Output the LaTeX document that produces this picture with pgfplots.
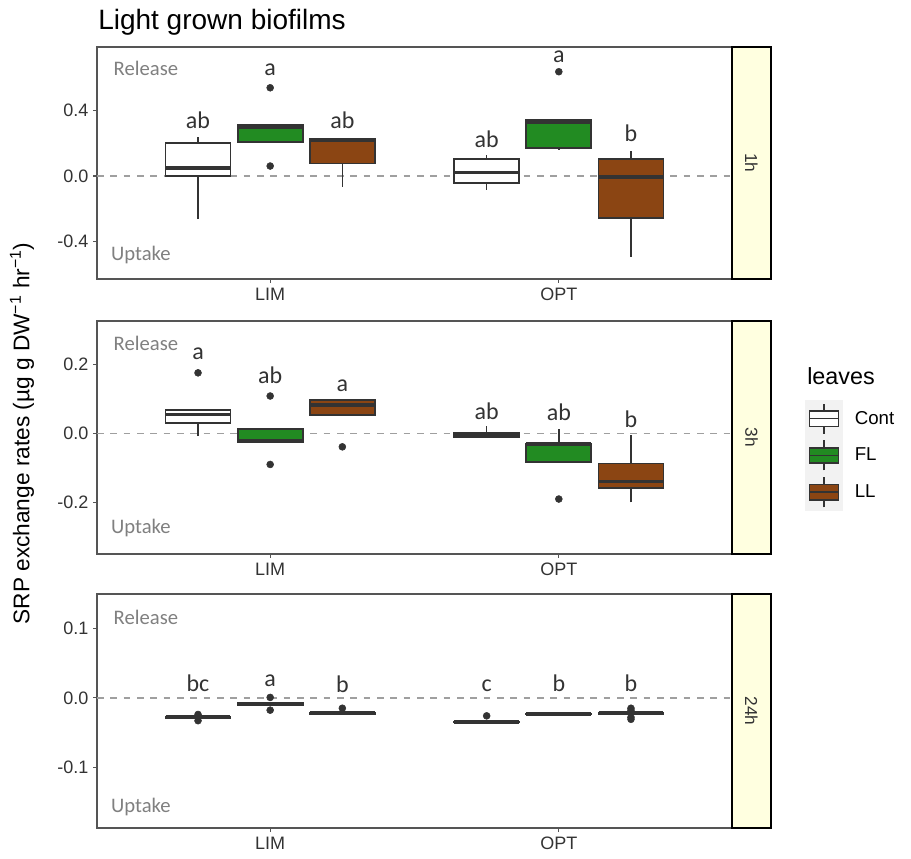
\documentclass[border=0pt]{standalone}
\usepackage{pgfplots}
\pgfplotsset{compat=1.18}
\usepackage{fontspec}
\setmainfont{Liberation Sans}
\newfontfamily\carlito{Carlito}
\definecolor{boxline}{HTML}{333333}
\definecolor{flgreen}{HTML}{228B22}
\definecolor{llbrown}{HTML}{8B4513}
\definecolor{stripy}{HTML}{FFFFE0}
\definecolor{keybg}{HTML}{F2F2F2}
\definecolor{frame}{HTML}{555555}

\pgfplotsset{
  panel/.style={scale only axis, width=476.25pt,
    xmin=0.4, xmax=2.6, xtick={1,2}, xticklabels={LIM,OPT},
    tick pos=left, tick align=outside, major tick length=3pt,
    tick style={frame, line width=0.8pt},
    axis line style={frame, line width=0.8pt},
    ticklabel style={font=\fontsize{13.5}{16}\selectfont, text=black!80},
    clip=false},
  zero/.style={gray!75, line width=1.2pt, dash pattern=on 5pt off 5pt, forget plot},
}
\tikzset{
  lbl/.style={font=\carlito\fontsize{18}{21}\selectfont, text=black!80, anchor=base, inner sep=0pt},
  rl/.style={font=\carlito\fontsize{15.5}{18}\selectfont, text=gray, anchor=base west, inner sep=0pt},
  striptxt/.style={rotate=-90, font=\fontsize{13}{15}\selectfont, text=black!80},
}
% left edge, centre, right edge, lower whisker, lower quartile, median, upper quartile, upper whisker, fill
\newcommand{\bx}[9]{%
  \addplot[boxline, line width=1.2pt, forget plot] coordinates {(#2,#4) (#2,#8)};
  \addplot[draw=boxline, fill=#9, line width=1.3pt, forget plot] coordinates {(#1,#5) (#3,#5) (#3,#7) (#1,#7)} -- cycle;
  \addplot[boxline, line width=2.6pt, forget plot] coordinates {(#1,#6) (#3,#6)};}
\newcommand{\outl}[1]{\addplot[only marks, mark=*, mark size=2.6pt, boxline, forget plot] coordinates {#1};}
\newcommand{\strip}[1]{%
  \draw[fill=stripy, draw=black, line width=0.9pt] (rel axis cs:1,0) rectangle ([xshift=29.25pt]rel axis cs:1,1);
  \node[striptxt] at ([xshift=14.6pt]rel axis cs:1,0.5) {#1};}
\newcommand{\legkey}[1]{\addlegendimage{legend image code/.code={%
  \fill[keybg] (0pt,-13.6pt) rectangle (27.75pt,13.6pt);
  \draw[boxline,line width=1.2pt] (13.9pt,-11.25pt) -- (13.9pt,11.25pt);
  \draw[boxline,line width=1.2pt,fill=#1] (3pt,-5.75pt) rectangle (24.75pt,5.75pt);
  \draw[boxline,line width=1.2pt] (3pt,0pt) -- (24.75pt,0pt);}}}

\begin{document}
\begin{tikzpicture}
\useasboundingbox (0,0) rectangle (683.25pt,643.5pt);

% ---- 1h ----
\begin{axis}[panel, at={(72.75pt,434.25pt)}, anchor=south west, height=174pt,
  ymin=-0.629, ymax=0.788, ytick={-0.4,0,0.4}, yticklabels={-0.4,0.0,0.4}]
\addplot[zero] coordinates {(0.4,0) (2.6,0)};
\bx{0.6375}{0.75}{0.8625}{-0.264}{0.002}{0.05}{0.2015}{0.24}{white}
\bx{0.8875}{1.00}{1.1125}{0.209}{0.209}{0.30}{0.311}{0.311}{flgreen}
\outl{(1.00,0.539) (1.00,0.061)}
\bx{1.1375}{1.25}{1.3625}{-0.065}{0.077}{0.22}{0.226}{0.226}{llbrown}
\bx{1.6375}{1.75}{1.8625}{-0.085}{-0.041}{0.02}{0.102}{0.128}{white}
\bx{1.8875}{2.00}{2.1125}{0.159}{0.169}{0.33}{0.342}{0.342}{flgreen}
\outl{(2.00,0.637)}
\bx{2.1375}{2.25}{2.3625}{-0.493}{-0.255}{-0.006}{0.102}{0.155}{llbrown}
\node[lbl] at (axis cs:0.75,0.291) {ab};
\node[lbl] at (axis cs:1.00,0.617) {a};
\node[lbl] at (axis cs:1.25,0.291) {ab};
\node[lbl] at (axis cs:1.75,0.175) {ab};
\node[lbl] at (axis cs:2.00,0.692) {a};
\node[lbl] at (axis cs:2.25,0.210) {b};
\node[rl] at (axis cs:0.457,0.611) {Release};
\node[rl] at (axis cs:0.448,-0.519) {Uptake};
\strip{1h}
\end{axis}

% ---- 3h ----
\begin{axis}[panel, at={(72.75pt,228pt)}, anchor=south west, height=174.75pt,
  ymin=-0.349, ymax=0.325, ytick={-0.2,0,0.2}, yticklabels={-0.2,0.0,0.2},
  legend style={at={(1.115,0.661)}, anchor=north west, draw=none, fill=none,
    inner sep=0pt, row sep=0pt, column sep=9pt,
    font=\fontsize{14}{16}\selectfont, nodes={inner sep=0pt}},
  legend cell align=left]
\legkey{white}
\legkey{flgreen}
\legkey{llbrown}
\addplot[zero] coordinates {(0.4,0) (2.6,0)};
\bx{0.6375}{0.75}{0.8625}{-0.008}{0.029}{0.055}{0.067}{0.067}{white}
\outl{(0.75,0.175)}
\bx{0.8875}{1.00}{1.1125}{-0.026}{-0.026}{-0.021}{0.012}{0.012}{flgreen}
\outl{(1.00,0.108) (1.00,-0.09)}
\bx{1.1375}{1.25}{1.3625}{0.053}{0.053}{0.082}{0.096}{0.096}{llbrown}
\outl{(1.25,-0.039)}
\bx{1.6375}{1.75}{1.8625}{-0.013}{-0.010}{-0.004}{0.002}{0.020}{white}
\bx{1.8875}{2.00}{2.1125}{-0.082}{-0.082}{-0.031}{-0.029}{0.014}{flgreen}
\outl{(2.00,-0.19)}
\bx{2.1375}{2.25}{2.3625}{-0.200}{-0.159}{-0.140}{-0.087}{-0.005}{llbrown}
\legend{Cont,FL,LL}
\node[lbl] at (axis cs:0.75,0.215) {a};
\node[lbl] at (axis cs:1.00,0.145) {ab};
\node[lbl] at (axis cs:1.25,0.122) {a};
\node[lbl] at (axis cs:1.75,0.041) {ab};
\node[lbl] at (axis cs:2.00,0.036) {ab};
\node[lbl] at (axis cs:2.25,0.017) {b};
\node[rl] at (axis cs:0.457,0.241) {Release};
\node[rl] at (axis cs:0.448,-0.291) {Uptake};
\strip{3h}
\end{axis}

% ---- 24h ----
\begin{axis}[panel, at={(72.75pt,22.5pt)}, anchor=south west, height=175.5pt,
  ymin=-0.188, ymax=0.150, ytick={-0.1,0,0.1}, yticklabels={-0.1,0.0,0.1}]
\addplot[zero] coordinates {(0.4,0) (2.6,0)};
\bx{0.6375}{0.75}{0.8625}{-0.030}{-0.029}{-0.028}{-0.027}{-0.026}{white}
\outl{(0.75,-0.024) (0.75,-0.033)}
\bx{0.8875}{1.00}{1.1125}{-0.011}{-0.010}{-0.0087}{-0.007}{-0.006}{flgreen}
\outl{(1.00,0.0006) (1.00,-0.0178)}
\bx{1.1375}{1.25}{1.3625}{-0.024}{-0.023}{-0.022}{-0.021}{-0.020}{llbrown}
\outl{(1.25,-0.015)}
\bx{1.6375}{1.75}{1.8625}{-0.036}{-0.0355}{-0.035}{-0.0345}{-0.034}{white}
\outl{(1.75,-0.026)}
\bx{1.8875}{2.00}{2.1125}{-0.025}{-0.024}{-0.0235}{-0.023}{-0.022}{flgreen}
\bx{2.1375}{2.25}{2.3625}{-0.024}{-0.023}{-0.022}{-0.021}{-0.020}{llbrown}
\outl{(2.25,-0.015) (2.25,-0.018) (2.25,-0.028) (2.25,-0.031)}
\node[lbl] at (axis cs:0.75,0.0097) {bc};
\node[lbl] at (axis cs:1.00,0.0160) {a};
\node[lbl] at (axis cs:1.25,0.0078) {b};
\node[lbl] at (axis cs:1.75,0.0087) {c};
\node[lbl] at (axis cs:2.00,0.0097) {b};
\node[lbl] at (axis cs:2.25,0.0087) {b};
\node[rl] at (axis cs:0.457,0.1065) {Release};
\node[rl] at (axis cs:0.448,-0.165) {Uptake};
\strip{24h}
\end{axis}

\node[anchor=base west, inner sep=0pt, font=\fontsize{21}{25}\selectfont] at (73.5pt,621pt) {Light grown biofilms};
\node[anchor=base west, inner sep=0pt, font=\fontsize{17.5}{20}\selectfont] at (605.25pt,354.75pt) {leaves};
\node[rotate=90, inner sep=0pt, font=\fontsize{17}{20}\selectfont] at (16.5pt,318.4pt)
  {SRP exchange rates (µg g DW\textsuperscript{\char"2212 1} hr\textsuperscript{\char"2212 1})};
\end{tikzpicture}
\end{document}
